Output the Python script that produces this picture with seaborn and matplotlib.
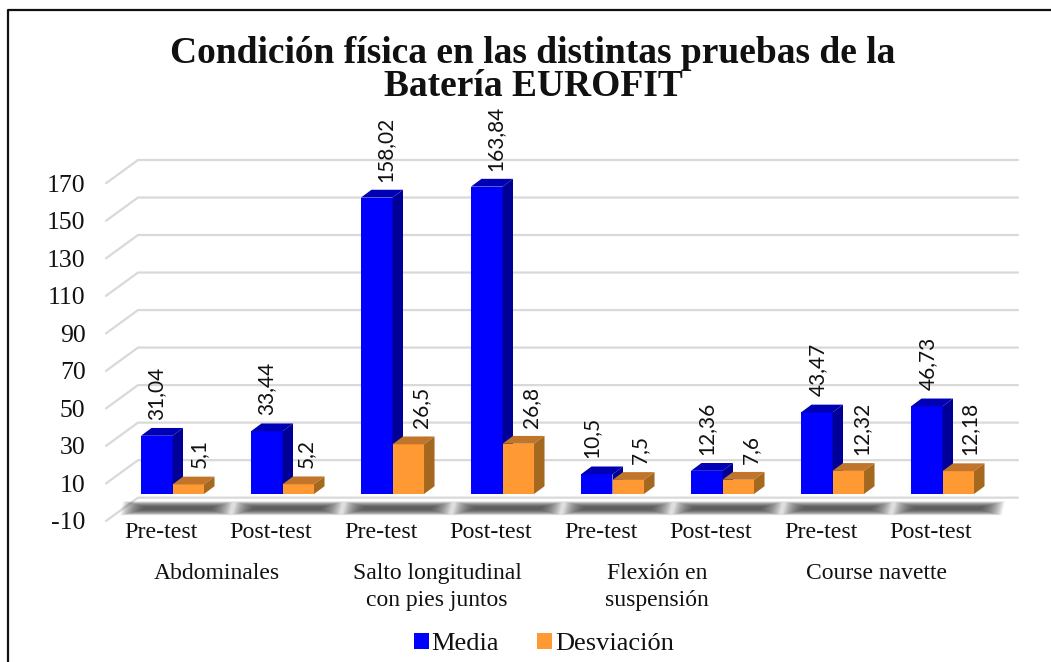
import matplotlib
matplotlib.use("Agg")
import matplotlib.pyplot as plt
from matplotlib.lines import Line2D
from matplotlib.patches import Polygon, Patch
from matplotlib.transforms import ScaledTranslation
import pandas as pd
import seaborn as sns

# ---- data ----
tests = ["Pre-test", "Post-test"] * 4
groups = ["Abdominales", "Salto longitudinal\ncon pies juntos", "Flexión en\nsuspensión", "Course navette"]
media = [31.04, 33.44, 158.02, 163.84, 10.5, 12.36, 43.47, 46.73]
desviacion = [5.1, 5.2, 26.5, 26.8, 7.5, 7.6, 12.32, 12.18]
y_ticks = list(range(-10, 171, 20))
title = "Condición física en las distintas pruebas de la\nBatería EUROFIT"

# ---- styling ----
W, H = 1051, 662
PX_X = 110.0      # px per category
PX_Y = 1.876      # px per value unit
AX_L, AX_BOTTOM = 117.5, 512.76
sns.set_theme(style="white")
SERIF = "Liberation Serif"
plt.rcParams["font.family"] = [SERIF, "DejaVu Serif"]

fig = plt.figure(figsize=(W / 100, H / 100), dpi=100, facecolor="white")
ax = fig.add_axes([AX_L / W, (H - AX_BOTTOM) / H, 880 / W, 180 * PX_Y / H])
ax.patch.set_alpha(0)

ids = [f"c{i}" for i in range(len(tests))]
df = pd.DataFrame({
    "id": ids * 2,
    "serie": ["Media"] * len(ids) + ["Desviación"] * len(ids),
    "valor": media + desviacion,
})
FRONT = {"Media": "#0000ff", "Desviación": "#ff9933"}
sns.barplot(data=df, x="id", y="valor", hue="serie", order=ids,
            hue_order=["Media", "Desviación"], palette=FRONT, saturation=1,
            width=0.573, gap=0, legend=False, ax=ax, zorder=3, linewidth=0)
ax.set_xlim(-0.5, 7.5)
ax.set_ylim(-10, 170)
ax.set_xlabel("")
ax.set_ylabel("")
sns.despine(ax=ax, left=True, bottom=True)

# back wall / floor gridlines
fx, bx = -11.5 / PX_X, 20.5 / PX_X
fy, by = -8.2 / PX_Y, 15.1 / PX_Y
for v in y_ticks:
    ax.add_line(Line2D([-0.5 + fx, -0.5 + bx, 7.5 + bx], [v + fy, v + by, v + by],
                       color="#d9d9d9", lw=1.6, zorder=1, clip_on=False,
                       solid_joinstyle="miter"))

# soft floor shadows beneath each pair of bars
N = 40
for i in range(len(ids)):
    cx = i + 5.0 / PX_X
    cy = -7.6
    for k in range(N):
        t = k / (N - 1)
        hw = (56 - 22 * t) / PX_X
        hh = (7.0 - 5.5 * t) / PX_Y
        skew = 1.5 / PX_X
        ax.add_patch(Polygon([(cx - hw - skew, cy - hh), (cx + hw - skew, cy - hh),
                              (cx + hw + skew, cy + hh), (cx - hw + skew, cy + hh)],
                             closed=True, fc="#3a3a3a", ec="none", alpha=0.035,
                             zorder=2, clip_on=False))

# 3-D faces, derived from the bars seaborn has drawn
DX, DY = 10.5 / PX_X, 7.8 / PX_Y
SHADE = [("#0000b4", "#000096"), ("#c0752a", "#a5681f")]
for j, cont in enumerate(ax.containers):
    top_c, side_c = SHADE[j]
    for bar in cont:
        bar.set_zorder(3 + j)
        x0, w, h = bar.get_x(), bar.get_width(), bar.get_height()
        x1 = x0 + w
        ax.add_patch(Polygon([(x0, h), (x1, h), (x1 + DX, h + DY), (x0 + DX, h + DY)],
                             closed=True, fc=top_c, ec="none", zorder=3 + j, clip_on=False))
        ax.add_patch(Polygon([(x1, 0), (x1 + DX, DY), (x1 + DX, h + DY), (x1, h)],
                             closed=True, fc=side_c, ec="none", zorder=3 + j, clip_on=False))

# data labels
label_dx = [[0, 0, 8.5, 8.5, -5, 0, 1, 1], [11, 8, 13, 13, 12, 13, 13, 11]]
for j, (cont, vals) in enumerate(zip(ax.containers, [media, desviacion])):
    for bar, v, dx in zip(cont, vals, label_dx[j]):
        ax.annotate(str(v).replace(".", ","),
                    xy=(bar.get_x() + bar.get_width() / 2, v), xycoords="data",
                    xytext=(dx, 16), textcoords="offset pixels",
                    rotation=90, ha="center", va="bottom", fontsize=15,
                    family=["Lato", "DejaVu Sans"], color="#111111", zorder=8,
                    annotation_clip=False)

# ticks
ax.set_yticks(y_ticks)
ax.set_yticklabels([str(v) for v in y_ticks])
ax.set_xticks(range(len(ids)))
ax.set_xticklabels(tests)
ax.tick_params(axis="y", length=0, pad=23, labelsize=18.5, labelcolor="#111111")
ax.tick_params(axis="x", length=0, pad=6.5, labelsize=17.3, labelcolor="#111111")
for lbl in ax.get_yticklabels():
    lbl.set_transform(lbl.get_transform() + ScaledTranslation(0, -8.2 / 100, fig.dpi_scale_trans))
for lbl in ax.get_xticklabels():
    lbl.set_transform(lbl.get_transform() + ScaledTranslation(-12 / 100, 0, fig.dpi_scale_trans))

# group labels
for g, text in enumerate(groups):
    ax.annotate(text, xy=(2 * g + 0.5, -10), xycoords="data",
                xytext=(-10.5, -50), textcoords="offset pixels",
                ha="center", va="top", fontsize=17, color="#111111",
                linespacing=1.38, annotation_clip=False)

# title
fig.text(533 / W, 1 - 70 / H, title, ha="center", va="center", fontsize=27,
         fontweight="bold", color="#111111", linespacing=0.96)

# legend
handles = [Patch(fc=FRONT["Media"], ec="none", label="Media"),
           Patch(fc=FRONT["Desviación"], ec="none", label="Desviación")]
fig.legend(handles=handles, loc="center", bbox_to_anchor=(544 / W, 1 - 644 / H),
           ncol=2, frameon=False, fontsize=19, handlelength=0.55, handleheight=0.55,
           handletextpad=0.12, columnspacing=1.45, labelcolor="#111111")

# outer frame (top and left only are visible)
fig.add_artist(Line2D([7.5 / W, 7.5 / W, 1.0], [0, 1 - 9.5 / H, 1 - 9.5 / H],
                      transform=fig.transFigure, color="#111111", lw=1.6))

fig.savefig("out.png", dpi=100, facecolor="white")
